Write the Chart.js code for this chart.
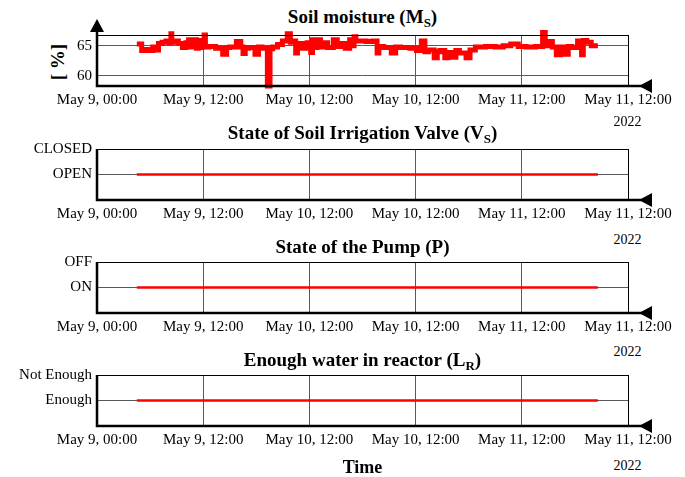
<!DOCTYPE html>
<html>
<head>
<meta charset="utf-8">
<script src="https://cdn.jsdelivr.net/npm/chart.js@4"></script>
<style>
body{margin:0;width:685px;height:477px;background:#fff;position:relative;overflow:hidden;font-family:"Liberation Serif","Times New Roman",serif;color:#000}
canvas{position:absolute;left:0}
.ttl{position:absolute;left:97px;width:531px;text-align:center;font-weight:bold;font-size:19px;line-height:20px}
.ttl sub{font-size:13px;vertical-align:-4px;line-height:0}
.yr{position:absolute;left:600px;width:55px;text-align:center;font-size:14px;line-height:16px}
.ylab{position:absolute;left:28px;top:52px;width:60px;text-align:center;font-weight:bold;font-size:19px;line-height:20px;transform:rotate(-90deg);transform-origin:30px 10px}
.xlab{position:absolute;left:97px;width:531px;top:457px;text-align:center;font-weight:bold;font-size:18px;line-height:20px}
</style>
</head>
<body>
<div class="ttl" style="top:7px">Soil moisture (M<sub>S</sub>)</div>
<div class="ylab">[ %]</div>
<canvas id="c1"></canvas>
<div class="yr" style="top:114px">2022</div>

<div class="ttl" style="top:123px">State of Soil Irrigation Valve (V<sub>S</sub>)</div>
<canvas id="c2"></canvas>
<div class="yr" style="top:232px">2022</div>

<div class="ttl" style="top:237px">State of the Pump (P)</div>
<canvas id="c3"></canvas>
<div class="yr" style="top:344px">2022</div>

<div class="ttl" style="top:350px">Enough water in reactor (L<sub>R</sub>)</div>
<canvas id="c4"></canvas>
<div class="yr" style="top:458px">2022</div>
<div class="xlab">Time</div>

<script>
// ---------------- data ----------------
// x in hours after May 9, 00:00
const xTickHours  = [0, 12, 24, 36, 48, 60];
const xTickLabels = ["May 9, 00:00", "May 9, 12:00", "May 10, 12:00", "May 10, 12:00", "May 11, 12:00", "May 11, 12:00"];

const moistHours = [
  4.5, 5.0, 5.1, 5.8, 6.0, 6.6, 6.8, 7.1, 7.6, 8.0, 8.3, 8.4, 8.5, 9.0, 9.4, 9.9, 10.2, 10.5, 10.6, 10.9, 11.2, 11.3, 11.6, 11.7, 12.0, 12.2, 12.3,
  13.0, 13.8, 14.6, 14.7, 15.3, 16.2, 16.3, 16.7, 16.8, 17.5, 18.2, 18.3, 19.0, 19.5, 19.6, 20.1, 20.7, 21.2, 21.8, 21.9, 22.3, 22.6, 22.7, 22.9, 23.5, 24.0,
  24.3, 24.4, 24.5, 25.2, 25.3, 25.8, 26.3, 27.1, 27.2, 27.8, 28.3, 28.8, 28.9, 29.2, 29.3, 30.0, 30.8, 31.5, 31.8, 31.9, 32.0, 32.8, 33.7, 33.8, 34.8, 35.9,
  36.3, 37.0, 37.1, 37.8, 38.4, 38.5, 39.0, 39.6, 39.7, 40.5, 40.6, 41.3, 42.1, 42.2, 43.3, 44.5, 45.5, 46.3, 47.2, 48.0,
  49.0, 50.1, 50.6, 50.7, 51.4, 51.5, 52.3, 52.4, 53.2, 53.3, 54.0, 54.6, 54.9, 55.0, 55.7, 56.0, 56.6
];
const moistValues = [
  65.3, 65.3, 64.2, 64.4, 64.2, 64.8, 64.3, 65.4, 65.6, 65.8, 65.5, 67.0, 65.6, 65.8, 65.4, 64.7, 65.5, 66.0, 64.8, 65.4, 66.0, 64.6, 65.9, 64.7, 65.0, 66.8, 64.8,
  64.9, 64.6, 63.6, 64.7, 64.8, 65.7, 64.8, 63.7, 64.6, 64.7, 63.6, 64.8, 64.6, 58.3, 64.5, 64.8, 65.2, 65.8, 67.0, 65.6, 65.8, 63.8, 64.9, 65.4, 64.6, 65.5,
  63.9, 66.0, 64.7, 66.0, 64.8, 65.5, 64.7, 66.0, 64.9, 65.4, 64.6, 66.0, 65.0, 66.5, 65.8, 65.8, 65.7, 65.8, 63.8, 64.8, 64.9, 64.7, 63.8, 64.8, 64.7, 64.6,
  64.2, 65.8, 64.0, 64.3, 63.0, 64.0, 64.2, 63.0, 63.9, 63.1, 64.2, 63.8, 63.0, 64.3, 64.8, 64.9, 64.8, 65.0, 65.3, 64.9,
  64.8, 64.9, 67.2, 65.0, 65.7, 64.8, 63.5, 64.8, 63.6, 64.9, 64.7, 65.8, 63.5, 65.9, 65.6, 65.0, 65.0
];

const stateHours = [4.5, 56.6];
const valveStates = [0, 0];
const pumpStates  = [0, 0];
const waterStates = [0, 0];

const valveLabels = ["OPEN", "CLOSED"];
const pumpLabels  = ["ON", "OFF"];
const waterLabels = ["Enough", "Not Enough"];
const moistTicks  = [60, 65];

// ---------------- helpers ----------------
const FONT = "'Liberation Serif', 'Times New Roman', serif";
const GRID = "#5a5a5a";
Chart.defaults.font.family = FONT;

const framePlugin = {
  id: "frame",
  afterDraw(chart, args, opts){
    const { ctx, chartArea: a } = chart;
    ctx.save();
    ctx.strokeStyle = "#000";
    ctx.lineWidth = 1;
    ctx.strokeRect(a.left + 0.5, a.top + 0.5, a.right - a.left, a.bottom - a.top);
    // heavier left + bottom axes
    ctx.lineWidth = 2.5;
    ctx.beginPath();
    ctx.moveTo(a.left, opts.yArrow ? a.top - 6 : a.top);
    ctx.lineTo(a.left, a.bottom);
    ctx.lineTo(a.right + 24, a.bottom);
    ctx.stroke();
    // arrow head at the right end of the time axis
    ctx.fillStyle = "#000";
    ctx.beginPath();
    ctx.moveTo(a.right + 11, a.bottom);
    ctx.lineTo(a.right + 24, a.bottom - 7);
    ctx.lineTo(a.right + 24, a.bottom + 7);
    ctx.closePath();
    ctx.fill();
    if (opts.yArrow){
      ctx.beginPath();
      ctx.moveTo(a.left, a.top - 16);
      ctx.lineTo(a.left - 7, a.top - 3);
      ctx.lineTo(a.left + 7, a.top - 3);
      ctx.closePath();
      ctx.fill();
    }
    ctx.restore();
  }
};

function pts(xs, ys){
  return xs.map((x, i) => ({ x, y: ys[i] }));
}

function makeChart(id, plotTop, plotBottom, data, yMin, yMax, yTicks, yLabelFn, lineW, yArrow, stepped){
  const cv = document.getElementById(id);
  const padTop = 22, xH = 30;
  const h = (plotBottom - plotTop) + padTop + xH;
  cv.width = 685; cv.height = h;
  cv.style.width = "685px"; cv.style.height = h + "px";
  cv.style.top = (plotTop - padTop) + "px";

  return new Chart(cv.getContext("2d"), {
    type: "line",
    data: {
      datasets: [{
        data,
        borderColor: "#ff0000",
        borderWidth: lineW,
        pointRadius: 0,
        tension: 0,
        stepped: stepped,
        fill: false,
        clip: false
      }]
    },
    options: {
      responsive: false,
      animation: false,
      devicePixelRatio: 1,
      layout: { padding: { top: padTop, right: 57, left: 0, bottom: 0 } },
      plugins: { legend: { display: false }, tooltip: { enabled: false }, frame: { yArrow } },
      scales: {
        x: {
          type: "linear",
          min: 0, max: 60,
          afterBuildTicks: s => { s.ticks = xTickHours.map(v => ({ value: v })); },
          afterFit: s => { s.height = xH; },
          ticks: {
            callback: (v, i) => xTickLabels[i],
            maxRotation: 0, autoSkip: false,
            color: "#000", padding: 5,
            font: { family: FONT, size: 15 }
          },
          grid: { color: GRID, lineWidth: 1, drawTicks: false },
          border: { display: false }
        },
        y: {
          type: "linear",
          min: yMin, max: yMax,
          afterBuildTicks: s => { s.ticks = yTicks.map(v => ({ value: v })); },
          afterFit: s => { s.width = 97; },
          ticks: {
            callback: yLabelFn,
            color: "#000", padding: 5,
            font: { family: FONT, size: 15 }
          },
          grid: { color: GRID, lineWidth: 1, drawTicks: false },
          border: { display: false }
        }
      }
    },
    plugins: [framePlugin]
  });
}

function build(){
  makeChart("c1", 35, 86, pts(moistHours, moistValues), 58.3, 66.8, moistTicks, v => String(v), 5, true, "middle");
  makeChart("c2", 149, 200, pts(stateHours, valveStates), -1, 1, [0, 1], v => valveLabels[v], 2.5, false, false);
  makeChart("c3", 262, 313, pts(stateHours, pumpStates), -1, 1, [0, 1], v => pumpLabels[v], 2.5, false, false);
  makeChart("c4", 375, 426, pts(stateHours, waterStates), -1, 1, [0, 1], v => waterLabels[v], 2.5, false, false);
}

window.addEventListener("DOMContentLoaded", () => {
  document.fonts.load("15px 'Liberation Serif'").then(build, build);
});
</script>
</body>
</html>
